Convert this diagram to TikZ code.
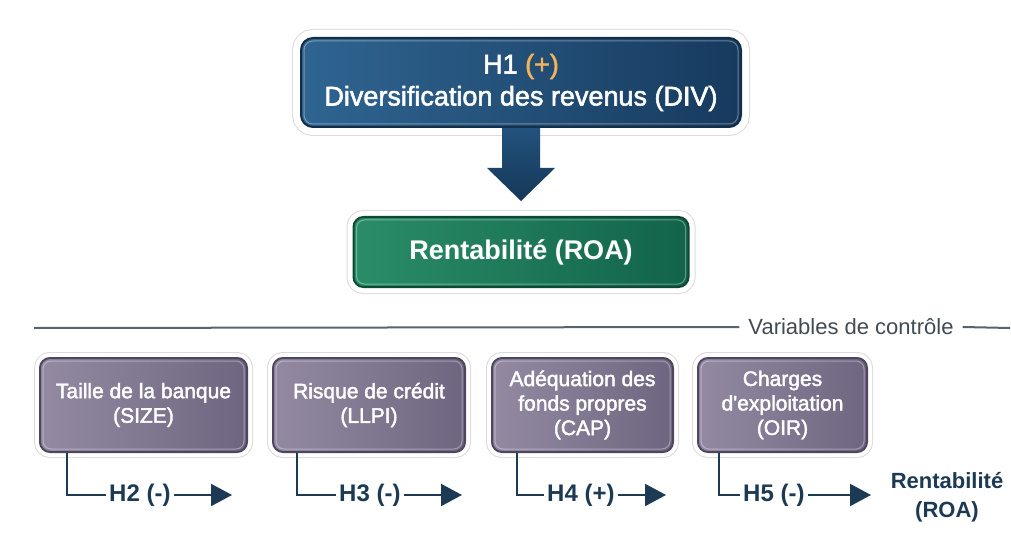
\documentclass[tikz,border=0pt]{standalone}
\usepackage{fontspec}
\setmainfont{Liberation Sans}[Ligatures=TeXOff]
\newfontfamily\medfont{Liberation Sans}[FakeBold=2,Ligatures=TeXOff]
\usetikzlibrary{arrows.meta,calc}
\definecolor{navy}{HTML}{1D3A55}
\definecolor{hA}{HTML}{2F6591}
\definecolor{hB}{HTML}{173A5E}
\definecolor{hBorder}{HTML}{142E48}
\definecolor{gA}{HTML}{2A8D68}
\definecolor{gB}{HTML}{12634A}
\definecolor{gBorder}{HTML}{0D4A36}
\definecolor{pA}{HTML}{938AA2}
\definecolor{pB}{HTML}{6E6580}
\definecolor{pBorder}{HTML}{4E465E}
\definecolor{plus}{HTML}{F2B35A}
\definecolor{sepgray}{HTML}{56646E}
\definecolor{arrA}{HTML}{22527C}
\definecolor{arrB}{HTML}{163858}
\begin{document}
\begin{tikzpicture}[x=1pt,y=-1pt,
  rim/.style={preaction={draw=black!14,line width=#1+2pt},preaction={draw=white,line width=#1}},
  h1box/.style={rounded corners=12pt,left color=hA,right color=hB,draw=hBorder,line width=2pt,
    rim=16pt,text=white,align=center,font=\medfont\fontsize{27}{32}\selectfont,
    minimum width=440pt,minimum height=89pt,inner sep=0pt},
  roabox/.style={rounded corners=10pt,left color=gA,right color=gB,draw=gBorder,line width=2pt,
    rim=12pt,text=white,font=\bfseries\fontsize{27}{32}\selectfont,
    minimum width=335pt,minimum height=70pt,inner sep=0pt},
  ctrlbox/.style={rounded corners=10pt,left color=pA,right color=pB,draw=pBorder,line width=2pt,
    rim=10pt,text=white,align=center,font=\medfont\fontsize{21}{24.5}\selectfont,
    minimum height=94pt,inner sep=0pt},
  innerline/.style={draw=white,draw opacity=0.35,line width=1pt,rounded corners=8pt},
  hlabel/.style={text=navy,font=\bfseries\fontsize{24}{28}\selectfont,inner xsep=3pt,inner ysep=0pt,anchor=west},
  conn/.style={draw=navy,line width=2pt},
  connarrow/.style={conn,-{Triangle[length=21pt,width=22pt]}},
  sepline/.style={draw=sepgray,line width=2pt}
]
\useasboundingbox (0,0) rectangle (1011,545);
\fill[white] (0,0) rectangle (1011,545);

% main boxes
\node[h1box] (h1) at (521,82.5) {H1 \textcolor{plus}{(+)}\\Diversification des revenus (DIV)};
\draw[innerline,rounded corners=9pt] ([shift={(4pt,-4pt)}]h1.north west) rectangle ([shift={(-4pt,4pt)}]h1.south east);
\node[roabox] (roa) at (521,252) {Rentabilité (ROA)};
\draw[innerline] ([shift={(4pt,-4pt)}]roa.north west) rectangle ([shift={(-4pt,4pt)}]roa.south east);

% big arrow
\shade[top color=arrA,bottom color=arrB]
  ($(h1.south)+(-19,0)$) -- ($(h1.south)+(19,0)$) -- ($(h1.south)+(19,40)$) --
  ($(h1.south)+(34,40)$) -- ($(roa.north)+(0,-15)$) -- ($(h1.south)+(-34,40)$) --
  ($(h1.south)+(-19,40)$) -- cycle;

% separator
\node[text=sepgray!75!black,font=\fontsize{22}{26}\selectfont,inner xsep=9pt] (vc) at (851,327) {Variables de contrôle};
\coordinate (sl) at (34,328);
\coordinate (sr) at (1010,328);
\draw[sepline] (sl) -- (vc.west);
\draw[sepline] (vc.east) -- (sr);

% control boxes
\node[ctrlbox,minimum width=207pt] (b1) at (143.5,405) {Taille de la banque\\(SIZE)};
\node[ctrlbox,minimum width=192pt] (b2) at (369,405) {Risque de crédit\\(LLPI)};
\node[ctrlbox,minimum width=181pt] (b3) at (582.5,405) {Adéquation des\\fonds propres\\(CAP)};
\node[ctrlbox,minimum width=169pt] (b4) at (782.5,405) {Charges\\d'exploitation\\(OIR)};
\foreach \b in {b1,b2,b3,b4}{
  \draw[innerline] ([shift={(4pt,-4pt)}]\b.north west) rectangle ([shift={(-4pt,4pt)}]\b.south east);
}

% hypothesis labels
\node[hlabel] (h2) at (106,495) {H2 (-)};
\node[hlabel] (h3) at (336,495) {H3 (-)};
\node[hlabel] (h4) at (544,495) {H4 (+)};
\node[hlabel] (h5) at (740,495) {H5 (-)};
\coordinate (t2) at (232,495);
\coordinate (t3) at (462,495);
\coordinate (t4) at (666,495);
\coordinate (t5) at (871,495);

\draw[conn] ([xshift=28pt]b1.south west) |- (h2.west);
\draw[conn] ([xshift=25pt]b2.south west) |- (h3.west);
\draw[conn] ([xshift=26pt]b3.south west) |- (h4.west);
\draw[conn] ([xshift=22pt]b4.south west) |- (h5.west);
\draw[connarrow] (h2.east) -- (t2);
\draw[connarrow] (h3.east) -- (t3);
\draw[connarrow] (h4.east) -- (t4);
\draw[connarrow] (h5.east) -- (t5);

\node[text=navy,font=\bfseries\fontsize{22}{29}\selectfont,align=center] (roa2) at (947,497) {Rentabilité\\(ROA)};
\end{tikzpicture}
\end{document}
